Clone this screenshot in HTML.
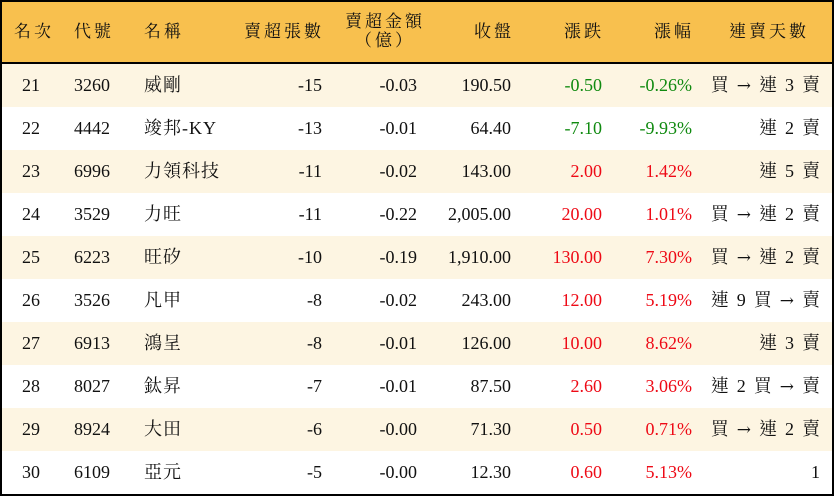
<!DOCTYPE html>
<html><head><meta charset="utf-8"><style>
body{margin:0;width:834px;height:496px;overflow:hidden;background:#fff;}
#t{position:absolute;left:0;top:0;width:830px;height:492px;border:2px solid #000;background:#fff;font-family:"Liberation Serif","Noto Serif CJK TC",serif;font-size:18px;color:#111;}
.h{position:absolute;left:0;top:0;width:830px;height:60px;background:#f8c04e;border-bottom:2px solid #000;}
.r{position:absolute;left:0;width:830px;height:43px;}
.c{position:absolute;top:0;line-height:43px;white-space:nowrap;}
.h .c{line-height:60px;letter-spacing:3px;font-size:17px}
.g{color:#108a10}.d{color:#ee0a16}
.a{font-family:"DejaVu Serif",serif;font-size:17px}
.s{display:inline-block;width:8px}
</style></head><body><div id="t">
<div class="h">
<div class="c" style="left:12px">名次</div>
<div class="c" style="left:72px">代號</div>
<div class="c" style="left:142px">名稱</div>
<div class="c" style="right:508px">賣超張數</div>
<div class="c" style="left:343px;line-height:19px;top:10px;text-align:center;width:80px">賣超金額<br>（億）</div>
<div class="c" style="right:318px">收盤</div>
<div class="c" style="right:228px">漲跌</div>
<div class="c" style="right:138px">漲幅</div>
<div class="c" style="left:727px">連賣天數</div>
</div>
<div id="rows"></div>
</div>
<script>
var d=[
["21","3260","威剛","-15","-0.03","190.50","-0.50","-0.26%","買 → 連 3 賣","g"],
["22","4442","竣邦-KY","-13","-0.01","64.40","-7.10","-9.93%","連 2 賣","g"],
["23","6996","力領科技","-11","-0.02","143.00","2.00","1.42%","連 5 賣","d"],
["24","3529","力旺","-11","-0.22","2,005.00","20.00","1.01%","買 → 連 2 賣","d"],
["25","6223","旺矽","-10","-0.19","1,910.00","130.00","7.30%","買 → 連 2 賣","d"],
["26","3526","凡甲","-8","-0.02","243.00","12.00","5.19%","連 9 買 → 賣","d"],
["27","6913","鴻呈","-8","-0.01","126.00","10.00","8.62%","連 3 賣","d"],
["28","8027","鈦昇","-7","-0.01","87.50","2.60","3.06%","連 2 買 → 賣","d"],
["29","8924","大田","-6","-0.00","71.30","0.50","0.71%","買 → 連 2 賣","d"],
["30","6109","亞元","-5","-0.00","12.30","0.60","5.13%","1","d"]];
var h="";
d.forEach(function(r,i){
var s=r[8].split(" ").map(function(x){return x=="→"?'<span class="a">→</span>':x;}).join('<span class="s"></span>');
h+='<div class="r" style="top:'+(62+i*43)+'px;background:'+(i%2==0?'#fdf5e2':'#fff')+'">'+
'<div class="c" style="left:20px">'+r[0]+'</div>'+
'<div class="c" style="left:72px">'+r[1]+'</div>'+
'<div class="c" style="left:142px;letter-spacing:1px">'+r[2]+'</div>'+
'<div class="c" style="right:510px">'+r[3]+'</div>'+
'<div class="c" style="right:415px">'+r[4]+'</div>'+
'<div class="c" style="right:321px">'+r[5]+'</div>'+
'<div class="c '+r[9]+'" style="right:230px">'+r[6]+'</div>'+
'<div class="c '+r[9]+'" style="right:140px">'+r[7]+'</div>'+
'<div class="c" style="right:12px">'+s+'</div></div>';
});
document.getElementById("rows").innerHTML=h;
</script>
</body></html>
